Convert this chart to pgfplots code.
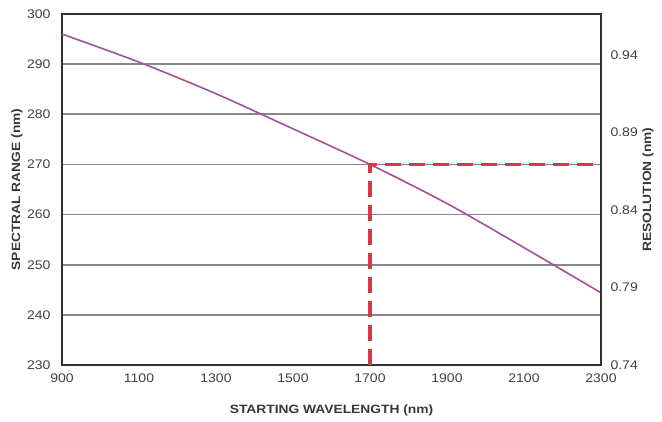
\documentclass[border=0pt]{standalone}
\usepackage{fontspec}
\setmainfont{Liberation Sans}
\newfontfamily\tickfont[FakeStretch=1.12]{Liberation Sans}
\newfontfamily\labfont[FakeStretch=1.15]{Liberation Sans}
\usepackage{pgfplots}
\pgfplotsset{compat=1.18}
\definecolor{curvec}{RGB}{165,80,155}
\definecolor{dashc}{RGB}{215,55,75}
\definecolor{gridc}{RGB}{135,135,135}
\definecolor{framec}{RGB}{50,50,50}
\definecolor{tickc}{RGB}{65,65,65}
\definecolor{labc}{RGB}{55,55,55}
\begin{document}
\begin{tikzpicture}[x=1pt,y=1pt]
\useasboundingbox (0,0) rectangle (662,421);
\begin{axis}[
  at={(62pt,56pt)}, anchor=south west,
  scale only axis, width=539pt, height=351pt,
  xmin=900, xmax=2300, ymin=230, ymax=300,
  xtick={900,1100,...,2300}, ytick={230,240,...,300},
  major tick length=0pt,
  ymajorgrids, grid style={gridc, line width=1.6pt},
  axis line style={framec, line width=2pt},
  /pgf/number format/assume math mode=true,
  /pgf/number format/1000 sep={},
  tick label style={font=\tickfont\fontsize{12.5}{14}\selectfont, text=tickc},
  xticklabel style={yshift=-5pt},
  yticklabel style={xshift=-8pt},
  xlabel={STARTING WAVELENGTH (nm)},
  ylabel={SPECTRAL RANGE (nm)},
  label style={font=\labfont\bfseries\fontsize{12}{14}\selectfont, text=labc},
  xlabel style={at={(rel axis cs:0.5,-0.13)}, anchor=center},
  ylabel style={at={(rel axis cs:-0.0835,0.5)}, anchor=center},
  clip=false,
]
\addplot[curvec, line width=1.6pt, smooth] coordinates {
  (900,296.0) (1100,290.4) (1300,284.1) (1500,277.1) (1700,270.0)
  (1900,262.2) (2100,253.4) (2300,244.4)
};
\addplot[dashc, line width=3.8pt, dash pattern=on 16pt off 8pt] coordinates {
  (1700,230) (1700,270) (2300,270)
};
\end{axis}
\begin{axis}[
  at={(62pt,56pt)}, anchor=south west,
  scale only axis, width=539pt, height=351pt,
  xmin=900, xmax=2300, ymin=0.74, ymax=0.9665,
  axis x line=none, axis y line*=right,
  ytick={0.74,0.79,0.84,0.89,0.94},
  major tick length=0pt,
  axis line style={framec, line width=2pt},
  /pgf/number format/assume math mode=true,
  yticklabel style={font=\tickfont\fontsize{12.5}{14}\selectfont, text=tickc, xshift=6pt,
    /pgf/number format/.cd, fixed, precision=2, zerofill},
  ylabel={RESOLUTION (nm)},
  label style={font=\labfont\bfseries\fontsize{12}{14}\selectfont, text=labc},
  ylabel style={at={(rel axis cs:1.087,0.5)}, anchor=center},
]
\end{axis}
\end{tikzpicture}
\end{document}
